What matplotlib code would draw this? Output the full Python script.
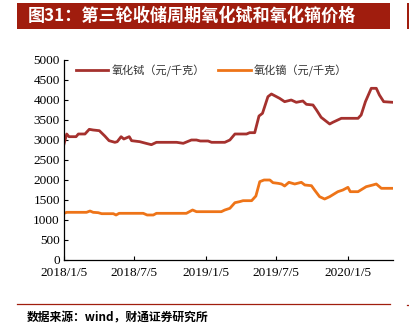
import matplotlib
matplotlib.use("Agg")
import matplotlib.pyplot as plt
import pandas as pd
from matplotlib.patches import Rectangle
from matplotlib.lines import Line2D

plt.rcParams['font.family'] = ['Noto Sans CJK SC', 'DejaVu Sans']

title = "图31：第三轮收储周期氧化铽和氧化镝价格"
source = "数据来源：wind，财通证券研究所"
series_names = ["氧化铽（元/千克）", "氧化镝（元/千克）"]

tb_dates = ["2018-01-05", "2018-01-12", "2018-01-18", "2018-02-05", "2018-02-11", "2018-02-28",
            "2018-03-11", "2018-03-21", "2018-04-06", "2018-04-20", "2018-05-01", "2018-05-16",
            "2018-05-22", "2018-06-01", "2018-06-08", "2018-06-22", "2018-06-28", "2018-07-19",
            "2018-08-04", "2018-08-18", "2018-08-31", "2018-10-22", "2018-11-08", "2018-11-29",
            "2018-12-12", "2018-12-22", "2019-01-11", "2019-01-20", "2019-02-23", "2019-03-08",
            "2019-03-21", "2019-04-20", "2019-04-28", "2019-05-11", "2019-05-22", "2019-05-31",
            "2019-06-14", "2019-06-23", "2019-07-14", "2019-07-27", "2019-08-13", "2019-08-26",
            "2019-09-12", "2019-09-21", "2019-10-08", "2019-10-17", "2019-10-29", "2019-11-20",
            "2019-11-28", "2019-12-20", "2020-02-01", "2020-02-09", "2020-02-20", "2020-03-06",
            "2020-03-19", "2020-03-27", "2020-04-07", "2020-05-01"]
tb_values = [2900, 3150, 3083, 3083, 3150, 3150,
             3267, 3250, 3233, 3100, 2983, 2942,
             2958, 3083, 3025, 3083, 2983, 2958,
             2917, 2883, 2942, 2942, 2917, 3000,
             3000, 2975, 2975, 2942, 2942, 3000,
             3150, 3150, 3183, 3183, 3600, 3667,
             4083, 4150, 4042, 3958, 4000, 3942,
             3975, 3892, 3875, 3750, 3567, 3400,
             3442, 3542, 3542, 3625, 3958, 4292,
             4292, 4125, 3958, 3942]

dy_dates = ["2018-01-05", "2018-01-12", "2018-03-04", "2018-03-13", "2018-03-21", "2018-04-03",
            "2018-04-12", "2018-05-12", "2018-05-19", "2018-05-27", "2018-07-28", "2018-08-07",
            "2018-08-23", "2018-08-31", "2018-11-16", "2018-12-02", "2018-12-12", "2019-02-14",
            "2019-02-23", "2019-03-08", "2019-03-21", "2019-04-02", "2019-04-11", "2019-05-03",
            "2019-05-14", "2019-05-24", "2019-06-04", "2019-06-19", "2019-06-27", "2019-07-10",
            "2019-07-19", "2019-07-27", "2019-08-07", "2019-08-22", "2019-09-08", "2019-09-17",
            "2019-10-04", "2019-10-12", "2019-10-25", "2019-11-07", "2019-11-20", "2019-12-11",
            "2019-12-24", "2020-01-06", "2020-01-12", "2020-02-01", "2020-02-22", "2020-03-10",
            "2020-03-19", "2020-04-01", "2020-05-01"]
dy_values = [1167, 1192, 1192, 1225, 1192, 1183,
             1158, 1158, 1125, 1167, 1167, 1125,
             1125, 1167, 1167, 1250, 1208, 1208,
             1250, 1292, 1433, 1458, 1483, 1483,
             1600, 1958, 2000, 2000, 1933, 1917,
             1900, 1850, 1942, 1900, 1942, 1875,
             1858, 1750, 1583, 1525, 1583, 1708,
             1750, 1817, 1708, 1708, 1833, 1875,
             1900, 1792, 1792]

x_ticks = ["2018-01-05", "2018-07-05", "2019-01-05", "2019-07-05", "2020-01-05"]
x_tick_labels = ["2018/1/5", "2018/7/5", "2019/1/5", "2019/7/5", "2020/1/5"]
y_ticks = [0, 500, 1000, 1500, 2000, 2500, 3000, 3500, 4000, 4500, 5000]

tb_color = "#A5312E"
dy_color = "#EE7418"
red = "#A01D0E"

fig = plt.figure(figsize=(4.10, 3.24), dpi=100)
fig.patch.set_facecolor("white")

ax = fig.add_axes([64/410, 1 - 260/324, (393 - 64)/410, 200/324])
ax.plot(pd.to_datetime(tb_dates), tb_values, color=tb_color, lw=2.0, solid_joinstyle='round')
ax.plot(pd.to_datetime(dy_dates), dy_values, color=dy_color, lw=2.0, solid_joinstyle='round')

ax.set_xlim(pd.Timestamp("2018-01-05"), pd.Timestamp("2020-05-01"))
ax.set_ylim(0, 5000)
ax.set_xticks(pd.to_datetime(x_ticks))
ax.set_xticklabels(x_tick_labels, family="Liberation Serif", fontsize=9.5)
ax.set_yticks(y_ticks)
ax.set_yticklabels([str(v) for v in y_ticks], family="Liberation Serif", fontsize=9.5)
ax.tick_params(axis='both', direction='in', length=3, width=0.8, colors='black', pad=3)
ax.tick_params(axis='x', pad=5)
for s in ["top", "right"]:
    ax.spines[s].set_visible(False)
for s in ["left", "bottom"]:
    ax.spines[s].set_linewidth(0.9)
    ax.spines[s].set_color("black")

handles = [Line2D([0], [0], color=tb_color, lw=2.0), Line2D([0], [0], color=dy_color, lw=2.0)]
leg = ax.legend(handles, series_names, loc="upper left", bbox_to_anchor=(0.015, 1.01), ncol=2,
                frameon=False, fontsize=8, handlelength=2.9, handletextpad=0.3,
                columnspacing=1.25, borderaxespad=0.2)
for t in leg.get_texts():
    t.set_color("#333333")

# Title banner
fig.patches.append(Rectangle((17/410, 1 - 29/324), (390 - 17)/410, 26/324,
                             transform=fig.transFigure, facecolor=red, edgecolor='none'))
fig.patches.append(Rectangle((407/410, 1 - 29/324), 3/410, 26/324,
                             transform=fig.transFigure, facecolor=red, edgecolor='none'))
fig.text(28/410, 1 - 16/324, title, color="white", fontsize=12.3, fontweight="bold",
         va="center", ha="left")

# Bottom rule and source
fig.add_artist(Line2D([17/410, 390/410], [1 - 304/324, 1 - 304/324], color=red, lw=0.9,
                      transform=fig.transFigure))
fig.add_artist(Line2D([407/410, 410/410], [1 - 305/324, 1 - 305/324], color=red, lw=0.9,
                      transform=fig.transFigure))
fig.text(27/410, 1 - 318/324, source, color="black", fontsize=8.5, fontweight="bold",
         va="center", ha="left")

fig.savefig("out.png", dpi=100)
